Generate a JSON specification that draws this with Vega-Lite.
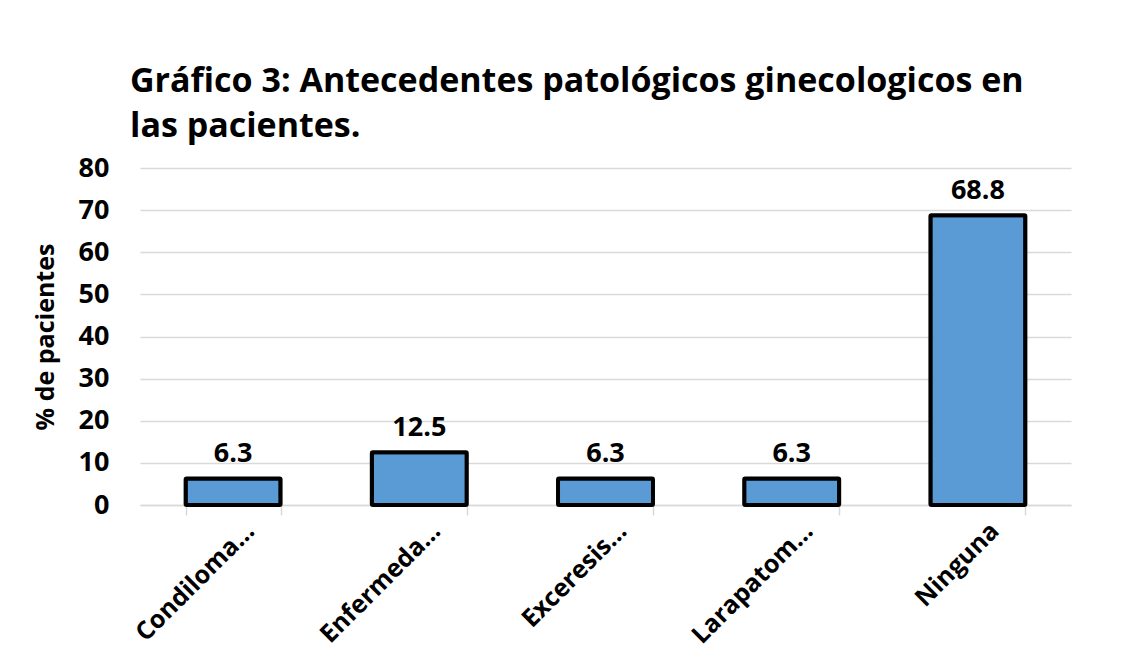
{
  "$schema": "https://vega.github.io/schema/vega-lite/v6.json",
  "autosize": {"type": "none"},
  "width": 931,
  "height": 337,
  "padding": {"left": 140, "top": 168, "right": 57, "bottom": 152},
  "background": "white",
  "title": {
    "text": ["Gráfico 3: Antecedentes patológicos ginecologicos en", "las pacientes."],
    "anchor": "start",
    "frame": "group",
    "font": "Open Sans",
    "fontSize": 34,
    "fontWeight": "bold",
    "color": "#000000",
    "lineHeight": 45,
    "dx": -10,
    "offset": 10
  },
  "data": {
    "values": [
      {"categoria": "Condiloma…", "pct": 6.3},
      {"categoria": "Enfermeda…", "pct": 12.5},
      {"categoria": "Exceresis…", "pct": 6.3},
      {"categoria": "Larapatom…", "pct": 6.3},
      {"categoria": "Ninguna", "pct": 68.8}
    ]
  },
  "config": {
    "view": {"stroke": null},
    "font": "Open Sans"
  },
  "encoding": {
    "x": {
      "field": "categoria",
      "type": "nominal",
      "sort": null,
      "scale": {"paddingInner": 0.49, "paddingOuter": 0.245},
      "axis": {
        "title": null,
        "labelAngle": -45,
        "labelFont": "Open Sans",
        "labelFontSize": 25,
        "labelFontWeight": "bold",
        "labelColor": "#000000",
        "labelPadding": 3,
        "labelOffset": 8,
        "domainColor": "#d9d9d9",
        "domainWidth": 1.5,
        "tickColor": "#d9d9d9",
        "tickWidth": 1.5,
        "tickSize": 10,
        "tickBand": "extent",
        "grid": false
      }
    },
    "y": {
      "field": "pct",
      "type": "quantitative",
      "scale": {"domain": [0, 80]},
      "axis": {
        "title": "% de pacientes",
        "titleFont": "Open Sans",
        "titleFontSize": 25,
        "titleFontWeight": "bold",
        "titleColor": "#000000",
        "titlePadding": 20,
        "values": [0, 10, 20, 30, 40, 50, 60, 70, 80],
        "labelFont": "Open Sans",
        "labelFontSize": 27,
        "labelFontWeight": "bold",
        "labelColor": "#000000",
        "labelPadding": 31,
        "ticks": false,
        "domain": false,
        "gridColor": "#d9d9d9",
        "gridWidth": 1.5
      }
    }
  },
  "layer": [
    {
      "mark": {"type": "bar", "color": "#5b9bd5", "stroke": "#000000", "strokeWidth": 4, "cornerRadius": 1}
    },
    {
      "mark": {"type": "text", "dy": -10, "baseline": "bottom", "font": "Open Sans", "fontSize": 27, "fontWeight": "bold", "color": "#000000"},
      "encoding": {
        "text": {"field": "pct", "type": "quantitative", "format": ".1f"}
      }
    }
  ]
}
